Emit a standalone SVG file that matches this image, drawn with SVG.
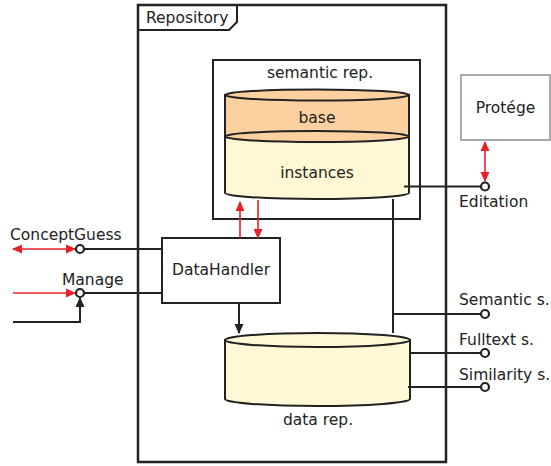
<svg xmlns="http://www.w3.org/2000/svg" width="551" height="466" viewBox="0 0 551 466">
<style>
text{font-family:"DejaVu Sans","Liberation Sans",sans-serif;font-size:15.5px;fill:#222}
.b{fill:none;stroke:#222;stroke-width:2}
.r{fill:none;stroke:#e8202a;stroke-width:1.6}
.port{fill:#fff;stroke:#222;stroke-width:2.2}
</style>
<defs>
<marker id="ar" viewBox="0 0 10 10" refX="9" refY="5" markerWidth="10" markerHeight="10" markerUnits="userSpaceOnUse" orient="auto-start-reverse"><path d="M0,0.5 L10,5 L0,9.5 z" fill="#e8202a"/></marker>
<marker id="ab" viewBox="0 0 10 10" refX="9" refY="5" markerWidth="10" markerHeight="10" markerUnits="userSpaceOnUse" orient="auto-start-reverse"><path d="M0,0.5 L10,5 L0,9.5 z" fill="#222"/></marker>
</defs>
<rect width="551" height="466" fill="#fff"/>

<g id="repository">
<rect x="138" y="5" width="308" height="457" fill="none" stroke="#222" stroke-width="2.5"/>
<path d="M138,30 L229,30 L237,22 L237,5" fill="none" stroke="#222" stroke-width="2"/>
<text x="146" y="23">Repository</text>
</g>

<g id="semantic-rep">
<rect x="213" y="60" width="207" height="159" class="b"/>
<text x="320" y="78" text-anchor="middle">semantic rep.</text>
</g>

<g id="instances">
<path d="M225,136.5 L225,193 A92,6 0 0 0 409,193 L409,136.5 Z" fill="#fef9d4" stroke="#222" stroke-width="2"/>
<text x="317" y="178" text-anchor="middle">instances</text>
</g>
<g id="base">
<path d="M225,95 L225,136.5 A92,5.5 0 0 0 409,136.5 L409,95 Z" fill="#fdd09f" stroke="#222" stroke-width="2"/>
<ellipse cx="317" cy="95" rx="92" ry="5.5" fill="#fdd09f" stroke="#222" stroke-width="2"/>
<path d="M225,136.5 A92,5.5 0 0 1 409,136.5" fill="none" stroke="#222" stroke-width="2"/>
<text x="317" y="123" text-anchor="middle">base</text>
</g>

<g id="data-rep">
<path d="M225,340 L225,399 A92.5,7 0 0 0 410,399 L410,340 Z" fill="#fef9d4" stroke="#222" stroke-width="2"/>
<ellipse cx="317.5" cy="340" rx="92.5" ry="7" fill="#fef9d4" stroke="#222" stroke-width="2"/>
<text x="318" y="425" text-anchor="middle">data rep.</text>
</g>

<g id="datahandler">
<rect x="162" y="238" width="118" height="65" fill="#fff" stroke="#222" stroke-width="2"/>
<text x="221" y="275" text-anchor="middle">DataHandler</text>
</g>

<g id="protege">
<rect x="461" y="75" width="89" height="65" fill="#fff" stroke="#aaa" stroke-width="2"/>
<text x="505.5" y="113" text-anchor="middle">Protége</text>
</g>

<g id="connectors">
<line x1="84" y1="249" x2="162" y2="249" class="b"/>
<line x1="84" y1="293" x2="162" y2="293" class="b"/>
<line x1="13" y1="249" x2="75" y2="249" class="r" marker-start="url(#ar)" marker-end="url(#ar)"/>
<line x1="13" y1="293" x2="75" y2="293" class="r" marker-end="url(#ar)"/>
<path d="M13,322 L80,322 L80,298" class="b" stroke-width="1.6" marker-end="url(#ab)"/>
<line x1="240" y1="238" x2="240" y2="202" class="r" marker-end="url(#ar)"/>
<line x1="258" y1="200" x2="258" y2="238" class="r" marker-end="url(#ar)"/>
<line x1="239" y1="303" x2="239" y2="333" class="b" stroke-width="1.6" marker-end="url(#ab)"/>
<line x1="404" y1="186.5" x2="481" y2="186.5" class="b"/>
<line x1="485" y1="142" x2="485" y2="181" class="r" marker-start="url(#ar)" marker-end="url(#ar)"/>
<line x1="393" y1="199" x2="393" y2="333" class="b" stroke-width="1.6"/>
<line x1="393" y1="314" x2="481" y2="314" class="b"/>
<line x1="410" y1="353" x2="481" y2="353" class="b"/>
<line x1="408" y1="387" x2="481" y2="387" class="b"/>
</g>

<g id="ports">
<circle cx="80" cy="249" r="4" class="port"/>
<circle cx="80" cy="293" r="4" class="port"/>
<circle cx="485" cy="186.5" r="4" class="port"/>
<circle cx="485" cy="314" r="4" class="port"/>
<circle cx="485" cy="353" r="4" class="port"/>
<circle cx="485" cy="387" r="4" class="port"/>
<text x="10" y="240">ConceptGuess</text>
<text x="62" y="285">Manage</text>
<text x="459" y="207">Editation</text>
<text x="459" y="305">Semantic s.</text>
<text x="459" y="345">Fulltext s.</text>
<text x="459" y="380">Similarity s.</text>
</g>
</svg>
